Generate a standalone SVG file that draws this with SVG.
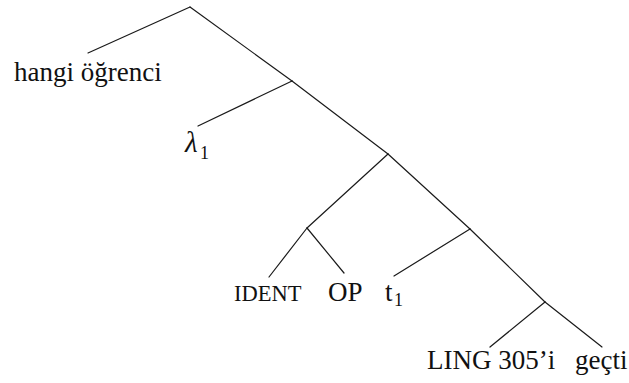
<svg xmlns="http://www.w3.org/2000/svg" width="629" height="383" viewBox="0 0 629 383">
<style>
.e{stroke:#1a1a1a;stroke-width:1.2;fill:none;stroke-linecap:round}
.t{font-family:"Liberation Serif","Times New Roman",serif;font-size:27px;fill:#111}
.s{font-size:18px}
.i{font-style:italic}
</style>
<rect width="629" height="383" fill="#fff"/>
<g id="connectors">
<line class="e" x1="190" y1="7" x2="88" y2="53"/>
<line class="e" x1="190" y1="7" x2="292" y2="81"/>
<line class="e" x1="292" y1="81" x2="198" y2="126"/>
<line class="e" x1="292" y1="81" x2="388" y2="154"/>
<line class="e" x1="388" y1="154" x2="307" y2="228"/>
<line class="e" x1="307" y1="228" x2="269" y2="277"/>
<line class="e" x1="307" y1="228" x2="344" y2="273"/>
<line class="e" x1="388" y1="154" x2="470" y2="229"/>
<line class="e" x1="470" y1="229" x2="394" y2="276"/>
<line class="e" x1="470" y1="229" x2="545" y2="302"/>
<line class="e" x1="545" y1="302" x2="490" y2="347"/>
<line class="e" x1="545" y1="302" x2="602" y2="347"/>
</g>
<g id="hangi-ogrenci"><text class="t" x="14" y="81">hangi öğrenci</text></g>
<g id="lambda1"><text class="t" x="185" y="152"><tspan class="i" style="font-size:29px">λ</tspan><tspan class="s" x="200" y="159">1</tspan></text></g>
<g id="ident"><text class="t" x="234" y="301" style="font-size:22.5px">IDENT</text></g>
<g id="op"><text class="t" x="328" y="301">OP</text></g>
<g id="t1"><text class="t" x="385" y="301">t<tspan class="s" x="394" y="306">1</tspan></text></g>
<g id="ling305i"><text class="t" x="427" y="369">LING 305’i</text></g>
<g id="gecti"><text class="t" x="575" y="369">geçti</text></g>
</svg>
